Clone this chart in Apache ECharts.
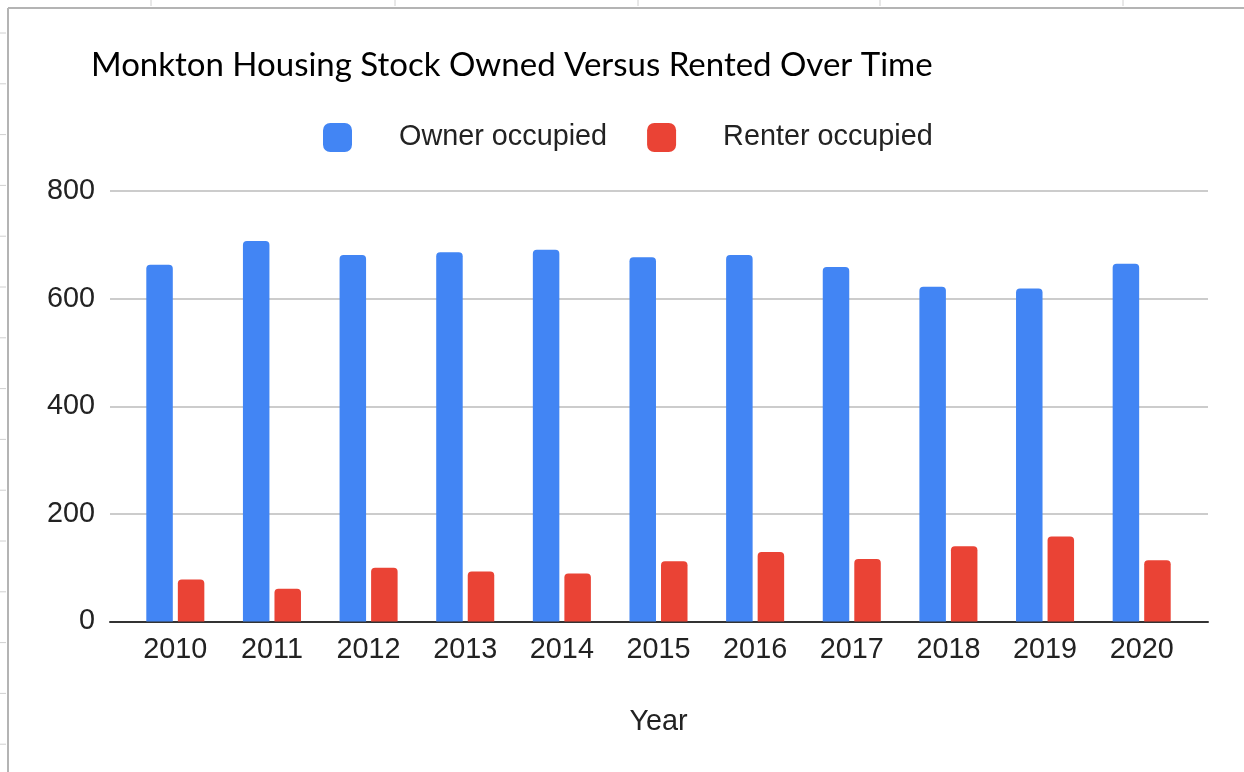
<!DOCTYPE html>
<html>
<head>
<meta charset="utf-8">
<script src="https://cdn.jsdelivr.net/npm/echarts@6/dist/echarts.min.js"></script>
<style>
    html, body { margin: 0; padding: 0; background: #fff; }
    #main { width: 1244px; height: 772px; }
</style>
</head>
<body>
<div id="main"></div>
<script>
// 数据
var years = ['2010', '2011', '2012', '2013', '2014', '2015', '2016', '2017', '2018', '2019', '2020']
var ownerOccupied = [663, 707, 681, 686, 691, 677, 681, 659, 622, 619, 665]
var renterOccupied = [78, 61, 100, 93, 89, 112, 129, 116, 140, 158, 114]
var yTicks = [0, 200, 400, 600, 800]

var tickFont = 'Liberation Sans, Arial, sans-serif'

// 表格边框装饰
var sheetLines = [
    { type: 'line', shape: { x1: 8, y1: 8, x2: 1244, y2: 8 }, style: { stroke: '#b4b4b4', lineWidth: 2 } },
    { type: 'line', shape: { x1: 8, y1: 8, x2: 8, y2: 772 }, style: { stroke: '#b4b4b4', lineWidth: 2 } }
]
;[151, 395, 638, 880, 1123].forEach(function (x) {
    sheetLines.push({ type: 'line', shape: { x1: x, y1: 0, x2: x, y2: 6 }, style: { stroke: '#d0d0d0', lineWidth: 1 } })
})
for (var ry = 33; ry < 772; ry += 50.8) {
    sheetLines.push({ type: 'line', shape: { x1: 0, y1: ry, x2: 6, y2: ry }, style: { stroke: '#d0d0d0', lineWidth: 1 } })
}

var myChart = echarts.init(document.getElementById('main'))
var option = {
    backgroundColor: '#fff',
    animation: false,
    color: ['#4285F4', '#EA4335'],
    title: {
        text: 'Monkton Housing Stock Owned Versus Rented Over Time',
        left: 86,
        top: 44,
        textStyle: {
            fontFamily: 'Lato, sans-serif',
            fontWeight: 'normal',
            fontSize: 33,
            color: '#000'
        }
    },
    legend: {
        left: 318,
        top: 118,
        itemWidth: 29,
        itemHeight: 29,
        itemGap: 40,
        icon: 'roundRect',
        textStyle: {
            fontFamily: tickFont,
            fontSize: 28.8,
            color: '#222',
            padding: [0, 0, 0, 42]
        },
        data: ['Owner occupied', 'Renter occupied']
    },
    grid: [
        // 网格线用
        { left: 110, right: 36, top: 191, bottom: 150.5 },
        // 柱子用
        { left: 127, right: 54, top: 191, bottom: 150.5 }
    ],
    xAxis: [
        {
            type: 'category',
            gridIndex: 0,
            data: years,
            axisLine: { lineStyle: { color: '#333', width: 2 } },
            axisTick: { show: false },
            axisLabel: { show: false }
        },
        {
            type: 'category',
            gridIndex: 1,
            data: years,
            name: 'Year',
            nameLocation: 'middle',
            nameGap: 86,
            nameTextStyle: { fontFamily: tickFont, fontSize: 28.8, color: '#222' },
            axisLine: { show: false },
            axisTick: { show: false },
            axisLabel: { fontFamily: tickFont, fontSize: 28.8, color: '#222', margin: 14 }
        }
    ],
    yAxis: [
        {
            type: 'value',
            gridIndex: 0,
            min: yTicks[0],
            max: yTicks[yTicks.length - 1],
            interval: 200,
            axisLine: { show: false },
            axisTick: { show: false },
            axisLabel: { fontFamily: tickFont, fontSize: 28.8, color: '#222', margin: 15 },
            splitLine: { lineStyle: { color: '#cccccc', width: 2 } }
        },
        {
            type: 'value',
            gridIndex: 1,
            min: yTicks[0],
            max: yTicks[yTicks.length - 1],
            interval: 200,
            show: false
        }
    ],
    series: [
        {
            name: 'Owner occupied',
            type: 'bar',
            xAxisIndex: 1,
            yAxisIndex: 1,
            barWidth: 26.5,
            barGap: '19%',
            itemStyle: { borderRadius: [4, 4, 0, 0] },
            data: ownerOccupied
        },
        {
            name: 'Renter occupied',
            type: 'bar',
            xAxisIndex: 1,
            yAxisIndex: 1,
            barWidth: 26.5,
            barGap: '19%',
            itemStyle: { borderRadius: [4, 4, 0, 0] },
            data: renterOccupied
        }
    ],
    graphic: sheetLines
}
myChart.setOption(option)
</script>
</body>
</html>
